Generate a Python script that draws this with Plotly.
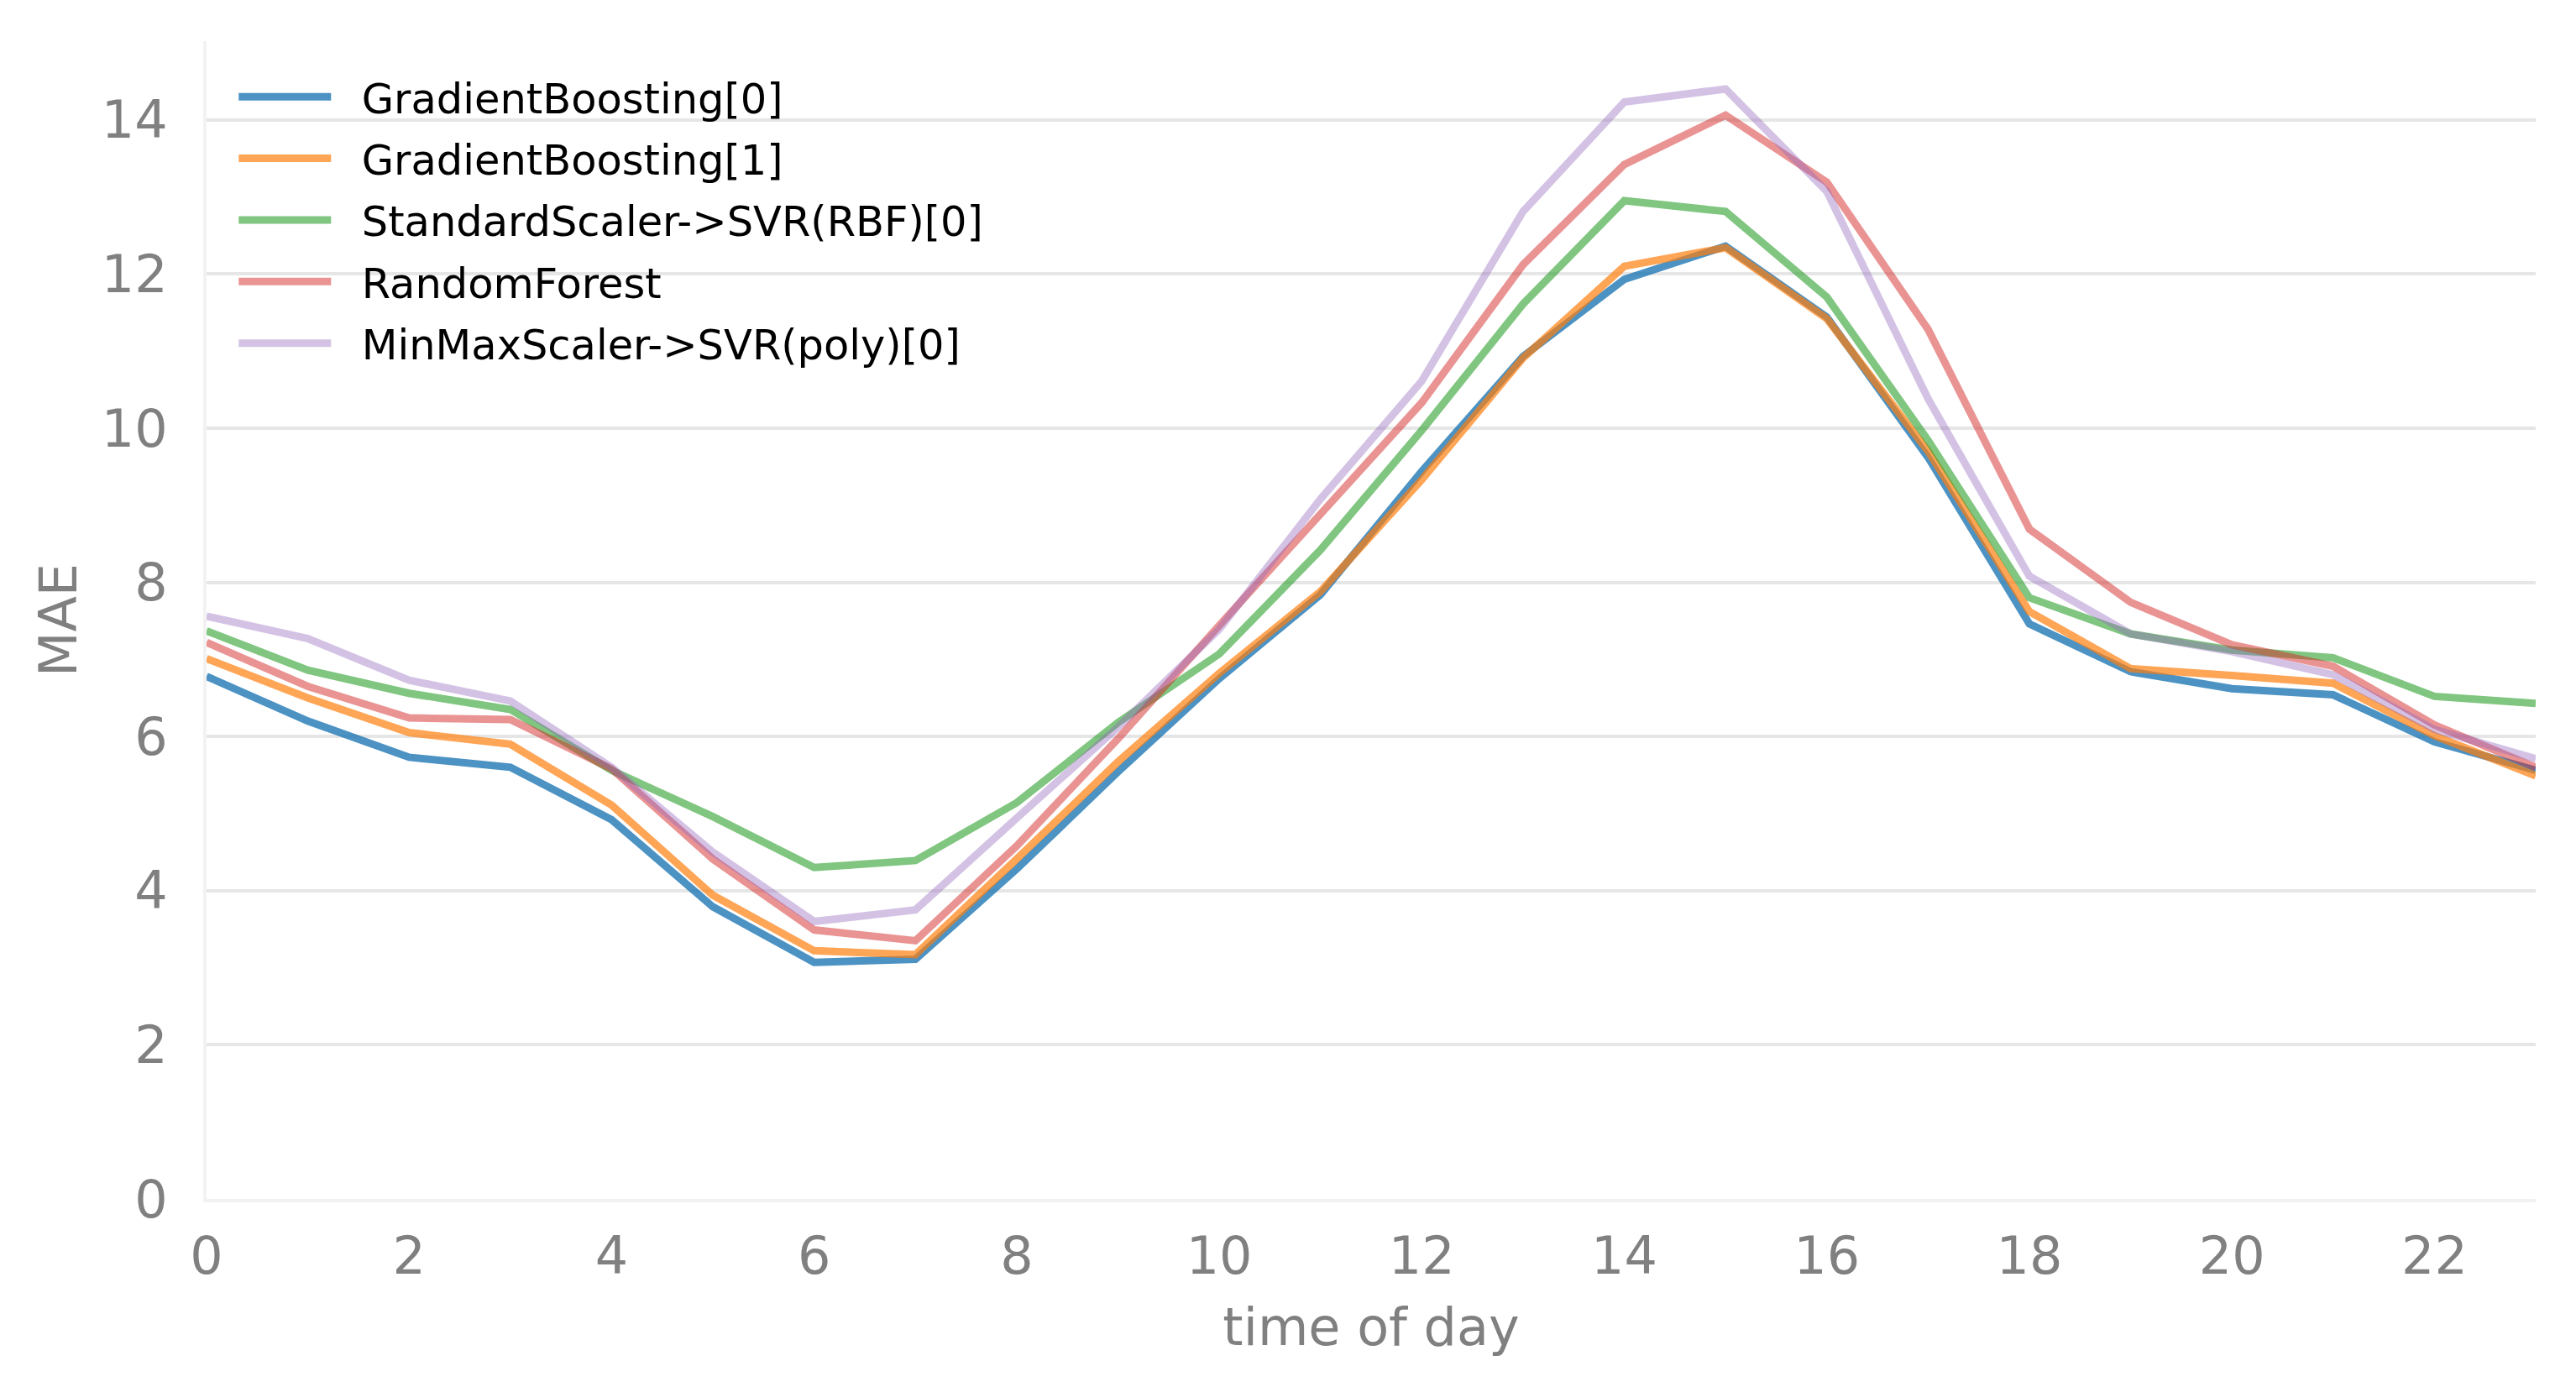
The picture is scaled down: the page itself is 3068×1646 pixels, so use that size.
import plotly.graph_objects as go

hours = list(range(24))

gb0 = [6.78, 6.20, 5.73, 5.60, 4.92, 3.79, 3.07, 3.11, 4.28, 5.54, 6.75, 7.84,
       9.44, 10.93, 11.93, 12.36, 11.44, 9.62, 7.46, 6.84, 6.62, 6.54, 5.93, 5.56]
gb1 = [7.01, 6.50, 6.05, 5.90, 5.11, 3.94, 3.22, 3.17, 4.41, 5.67, 6.82, 7.88,
       9.33, 10.91, 12.10, 12.34, 11.42, 9.70, 7.62, 6.88, 6.79, 6.69, 6.01, 5.49]
svr_rbf = [7.37, 6.86, 6.56, 6.35, 5.56, 4.96, 4.30, 4.39, 5.14, 6.18, 7.07, 8.42,
           9.97, 11.61, 12.95, 12.81, 11.70, 9.84, 7.80, 7.33, 7.12, 7.02, 6.52, 6.43]
rf = [7.22, 6.65, 6.24, 6.22, 5.58, 4.41, 3.49, 3.35, 4.58, 5.97, 7.44, 8.89,
      10.33, 12.12, 13.42, 14.06, 13.19, 11.28, 8.69, 7.74, 7.19, 6.91, 6.15, 5.60]
svr_poly = [7.56, 7.27, 6.73, 6.46, 5.60, 4.50, 3.60, 3.75, 4.94, 6.12, 7.39, 9.08,
            10.61, 12.81, 14.23, 14.40, 13.07, 10.38, 8.08, 7.33, 7.10, 6.80, 6.09, 5.71]

names = ["GradientBoosting[0]", "GradientBoosting[1]", "StandardScaler->SVR(RBF)[0]",
         "RandomForest", "MinMaxScaler->SVR(poly)[0]"]
series = [gb0, gb1, svr_rbf, rf, svr_poly]
colors = ["rgba(31,119,180,0.8)", "rgba(255,127,14,0.7)", "rgba(44,160,44,0.6)",
          "rgba(214,39,40,0.5)", "rgba(148,103,189,0.4)"]

x_ticks = list(range(0, 24, 2))
y_ticks = list(range(0, 15, 2))

fig = go.Figure()
for i, (name, ys, c) in enumerate(zip(names, series, colors)):
    fig.add_trace(go.Scatter(x=hours, y=ys, mode="lines",
                             name="\u00a0\u00a0" + name,
                             line=dict(color=c, width=9),
                             legendgroup=f"g{i}"))

font = "DejaVu Sans"
fig.update_layout(
    width=3068, height=1646,
    margin=dict(l=238, r=56, t=41, b=226),
    paper_bgcolor="white", plot_bgcolor="white",
    font=dict(family=font, size=62, color="#808080"),
    showlegend=True,
    legend=dict(x=0.012, y=0.98, xanchor="left", yanchor="top",
                bgcolor="rgba(0,0,0,0)", font=dict(family=font, size=49.5, color="black"),
                traceorder="grouped", tracegroupgap=6, itemwidth=110),
    xaxis=dict(range=[0, 23], tickvals=x_ticks, showgrid=False, zeroline=False,
               showline=True, linecolor="#f2f2f2", linewidth=4, ticks="",
               ticklabelstandoff=11,
               title=dict(text="time of day", font=dict(size=62, color="#808080"), standoff=28),
               tickfont=dict(size=62, color="#808080")),
    yaxis=dict(range=[0, 15.02], tickvals=y_ticks, showgrid=True, gridcolor="#e6e6e6",
               gridwidth=4, zeroline=False, showline=True, linecolor="#f2f2f2",
               linewidth=4, ticks="", ticklabelstandoff=30,
               title=dict(text="MAE", font=dict(size=62, color="#808080"), standoff=10),
               tickfont=dict(size=62, color="#808080")),
)

fig.write_html("out.html")
